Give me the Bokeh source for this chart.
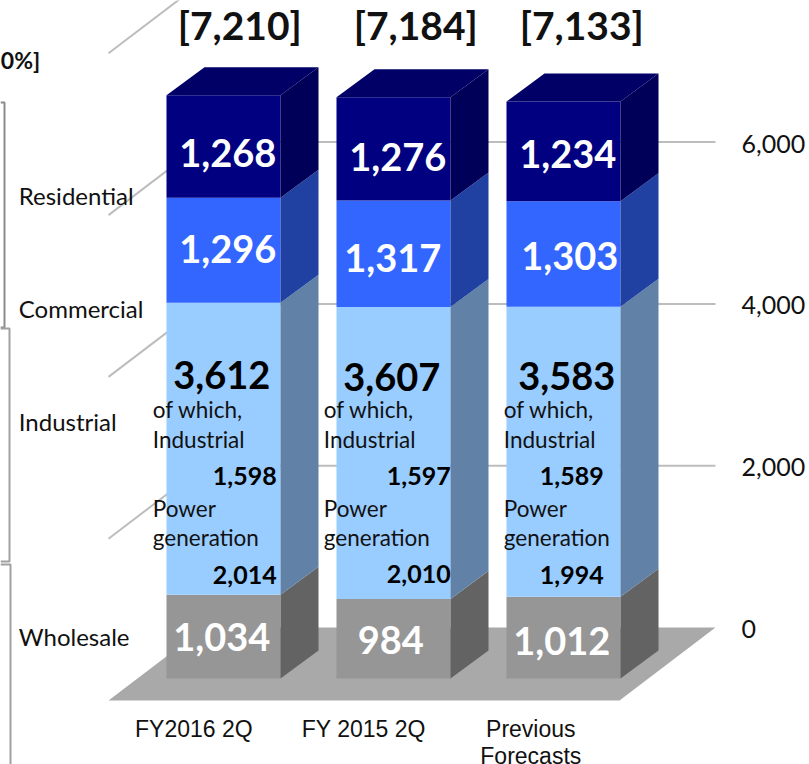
from bokeh.embed import file_html
from bokeh.resources import INLINE
from bokeh.plotting import figure
from bokeh.models import ColumnDataSource, LinearAxis, Range1d, FixedTicker
from bokeh.core.properties import value

# ---- data ----
periods = ["FY2016 2Q", "FY 2015 2Q", "Previous", "Forecasts"]
wholesale = [1034, 984, 1012]
power_generation = [2014, 2010, 1994]
industrial_only = [1598, 1597, 1589]
industrial_total = [3612, 3607, 3583]
commercial = [1296, 1317, 1303]
residential = [1268, 1276, 1234]
totals = [7210, 7184, 7133]
sector_names = ["Residential", "Commercial", "Industrial", "Wholesale"]
axis_ticks = [0, 2000, 4000, 6000]

# ---- styling / layout constants ----
W, H = 809, 764
FRAME_W, FRAME_H = 730, 764
PX_PER_UNIT = 0.0809
BAR_STEP = 170.0
BAR0_CENTER = 223.0
BAR_W = 114.0
BASE_PX = 678.0
DEPTH_X, DEPTH_Y = 38.0, 28.0
WALL_SHIFT_PX = 51.0
FLOOR_DX, FLOOR_DY = 96.0, 73.0


def X(px):
    return (px - BAR0_CENTER) / BAR_STEP


def Y(py):
    return (BASE_PX - py) / PX_PER_UNIT


x0, x1 = X(0), X(FRAME_W)
y0, y1 = Y(FRAME_H), Y(0)
wall = (WALL_SHIFT_PX - 1.5) / PX_PER_UNIT
p = figure(width=W, height=H, frame_width=FRAME_W, frame_height=FRAME_H,
           x_range=Range1d(x0, x1), y_range=Range1d(y0, y1),
           x_axis_type=None, y_axis_type=None, toolbar_location=None,
           output_backend="svg", min_border=0, min_border_right=W - FRAME_W,
           outline_line_color=None, background_fill_color="white", margin=(0, 0, 0, 0))

# right value axis, set on the back wall
p.extra_y_ranges["wall"] = Range1d(y0 - wall, y1 - wall)
ax = LinearAxis(y_range_name="wall", ticker=FixedTicker(ticks=axis_ticks),
                axis_line_color=None, major_tick_line_color=None, minor_tick_line_color=None,
                major_label_text_font="Lato", major_label_text_font_size="25px",
                major_label_text_color="#111111", major_label_standoff=5)
ax.major_label_overrides = {t: f"{t:,}" for t in axis_ticks}
p.add_layout(ax, "right")

# floor
fl_l, fl_r = X(108), X(619)
fx, fy = FLOOR_DX / BAR_STEP, FLOOR_DY / PX_PER_UNIT
fl_y = Y(700)
p.patch([fl_l, fl_r, fl_r + fx, fl_l + fx], [fl_y, fl_y, fl_y + fy, fl_y + fy],
        fill_color="#a9a9a9", line_color=None)

# wall gridlines (diagonal left part + horizontal part)
for t in axis_ticks[1:] + [8000]:
    p.line([fl_l, fl_l + fx, fl_r + fx], [t + fl_y, t + fl_y + fy, t + fl_y + fy],
           line_color="#bdbdbd", line_width=2)

# 3D stacked columns
series = [(wholesale, "#969696", "#636363"),
          ([a + b for a, b in zip(power_generation, industrial_only)], "#99CCFF", "#6181A6"),
          (commercial, "#3366FF", "#2040A2"),
          (residential, "#000080", "#000059")]
dx, dy = DEPTH_X / BAR_STEP, DEPTH_Y / PX_PER_UNIT
hw = BAR_W / BAR_STEP / 2
cats = list(range(3))
bottom = [0] * len(cats)
for vals, front, side in series:
    top = [b + v for b, v in zip(bottom, vals)]
    p.vbar(x=cats, width=2 * hw, bottom=bottom, top=top, fill_color=front, line_color=None)
    xs = [[c + hw, c + hw + dx, c + hw + dx, c + hw] for c in cats]
    ys = [[b, b + dy, t + dy, t] for b, t in zip(bottom, top)]
    p.patches(xs, ys, fill_color=side, line_color=None)
    bottom = top
xs = [[c - hw, c + hw, c + hw + dx, c - hw + dx] for c in cats]
ys = [[t, t, t + dy, t + dy] for t in bottom]
p.patches(xs, ys, fill_color="#000066", line_color=None)


def labels(px, py, texts, size, color="black", style="normal", align="center", font="Lato"):
    src = ColumnDataSource(dict(x=[X(a - 0.7) for a in px], y=[Y(b - 2) for b in py], t=texts))
    p.text("x", "y", text="t", source=src, text_font=value(font), text_font_size=size,
           text_color=color, text_font_style=style, text_align=align, text_baseline="middle")


fmt = lambda seq: [f"{v:,}" for v in seq]
labels([240, 416, 582], [26, 26, 26], [f"[{v:,}]" for v in totals], "39px", "#111111", "bold")
labels([228, 398, 568], [154, 158, 155], fmt(residential), "38px", "white", "bold")
labels([228, 393, 570], [250, 259, 257], fmt(commercial), "38px", "white", "bold")
labels([222, 392, 567], [376, 378, 377], fmt(industrial_total), "38px", "black", "bold")
labels([222, 391, 562], [638, 641, 642], fmt(wholesale), "38px", "white", "bold")
labels([245, 419, 572], [477, 477, 477], fmt(industrial_only), "25px", "black", "bold")
labels([245, 419, 572], [576, 575, 576], fmt(power_generation), "25px", "black", "bold")
lefts = [153, 324, 504]
labels(lefts, [411] * 3, ["of which,"] * 3, "22.5px", "#111111", align="left")
labels(lefts, [441] * 3, ["Industrial"] * 3, "22.5px", "#111111", align="left")
labels(lefts, [510] * 3, ["Power"] * 3, "22.5px", "#111111", align="left")
labels(lefts, [539] * 3, ["generation"] * 3, "22.5px", "#111111", align="left")
labels([19] * 4, [197, 310, 423, 638], sector_names, "24px", "#111111", align="left")
labels([1], [61], ["0%]"], "23px", "#111111", "bold", align="left")
labels([194, 364, 531, 531], [730, 730, 730, 757], periods, "23px", "#111111", font="Liberation Sans")

# clipped grey brackets at the left edge
p.line([X(0), X(4), X(4), X(0)], [Y(102), Y(102), Y(327), Y(327)], line_color="#8c8c8c", line_width=2)
p.line([X(0), X(9), X(9), X(0)], [Y(328), Y(328), Y(561), Y(561)], line_color="#a0a0a0", line_width=2)
p.line([X(0), X(10), X(10)], [Y(564), Y(564), Y(764)], line_color="#a0a0a0", line_width=2)

open("out.html", "w").write(file_html(p, INLINE))
